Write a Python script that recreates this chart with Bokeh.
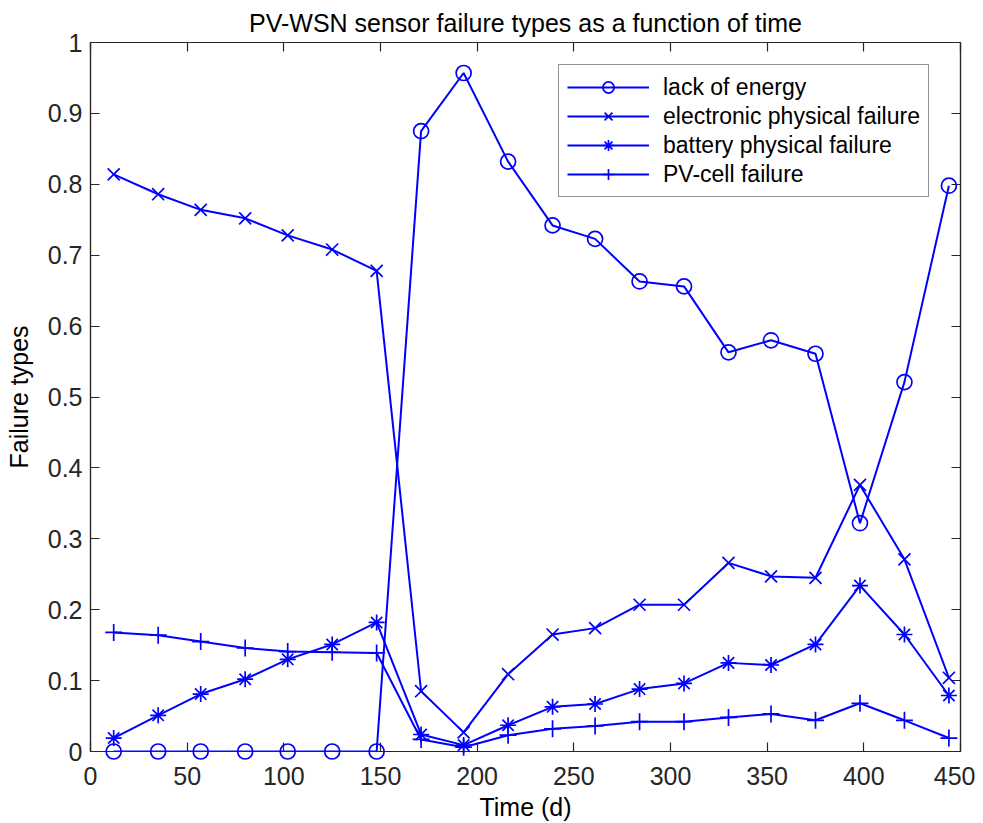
from bokeh.plotting import figure
from bokeh.models import (Range1d, FixedTicker, LinearAxis, CustomJSTickFormatter,
                          Legend, LegendItem)
from bokeh.embed import file_html
from bokeh.resources import INLINE

time = [12, 35, 57, 80, 102, 125, 148, 171, 193, 216, 239, 261, 284, 307, 330, 352, 375, 398, 421, 444]
lack_of_energy = [0, 0, 0, 0, 0, 0, 0, 0.875, 0.957, 0.832, 0.742, 0.723, 0.663, 0.656,
                  0.563, 0.580, 0.561, 0.322, 0.521, 0.798]
electronic_failure = [0.814, 0.786, 0.764, 0.752, 0.728, 0.708, 0.678, 0.085, 0.027, 0.109,
                      0.165, 0.174, 0.207, 0.207, 0.266, 0.247, 0.245, 0.376, 0.271, 0.104]
battery_failure = [0.019, 0.051, 0.081, 0.102, 0.130, 0.151, 0.182, 0.024, 0.009, 0.037,
                   0.063, 0.067, 0.088, 0.096, 0.125, 0.122, 0.151, 0.234, 0.165, 0.079]
pv_cell_failure = [0.168, 0.164, 0.155, 0.146, 0.141, 0.140, 0.139, 0.017, 0.006, 0.023,
                   0.032, 0.036, 0.042, 0.042, 0.048, 0.053, 0.044, 0.068, 0.044, 0.019]
series_names = ["lack of energy", "electronic physical failure",
                "battery physical failure", "PV-cell failure"]
x_ticks = [0, 50, 100, 150, 200, 250, 300, 350, 400, 450]
y_ticks = [0, 0.1, 0.2, 0.3, 0.4, 0.5, 0.6, 0.7, 0.8, 0.9, 1.0]

BLUE = "#0000ff"
AX = "#262626"
FONT = "Liberation Sans"

p = figure(width=975, height=823, output_backend="svg", toolbar_location=None,
           x_range=Range1d(0, 450), y_range=Range1d(0, 1),
           title="PV-WSN sensor failure types as a function of time",
           min_border_left=90, min_border_right=15, min_border_top=42, min_border_bottom=0)
p.background_fill_color = "white"
p.border_fill_color = "white"
p.outline_line_color = AX
p.outline_line_width = 1.2
p.xgrid.visible = False
p.ygrid.visible = False

p.title.align = "center"
p.title.text_font = FONT
p.title.text_font_size = "25px"
p.title.text_font_style = "normal"
p.title.text_color = "#000000"
p.title.standoff = 12

fmt = CustomJSTickFormatter(code="return tick.toFixed(1).replace(/\\.0$/, '');")
blank = CustomJSTickFormatter(code="return '';")

def style_axis(ax, ticks, formatter, label=None):
    ax.ticker = FixedTicker(ticks=ticks)
    ax.formatter = formatter
    ax.major_tick_in = 9
    ax.major_tick_out = 0
    ax.minor_tick_in = 0
    ax.minor_tick_out = 0
    ax.axis_line_color = AX
    ax.axis_line_width = 1.2
    ax.major_tick_line_color = AX
    ax.major_tick_line_width = 1.2
    ax.major_label_text_color = AX
    ax.major_label_text_font = FONT
    ax.major_label_text_font_size = "25px"
    ax.major_label_standoff = 8
    if label:
        ax.axis_label = label
        ax.axis_label_text_font = FONT
        ax.axis_label_text_font_size = "25px"
        ax.axis_label_text_font_style = "normal"
        ax.axis_label_text_color = "#000000"

style_axis(p.xaxis[0], x_ticks, fmt, "Time (d)")
p.xaxis[0].major_label_standoff = 15
p.xaxis[0].axis_label_standoff = 5
style_axis(p.yaxis[0], y_ticks, fmt, "Failure types")
p.yaxis[0].axis_label_standoff = 12

top_ax = LinearAxis()
style_axis(top_ax, x_ticks, blank)
top_ax.major_label_standoff = 0
right_ax = LinearAxis()
style_axis(right_ax, y_ticks, blank)
right_ax.major_label_standoff = 0
p.add_layout(top_ax, "above")
p.add_layout(right_ax, "right")

markers = ["circle", "x", "asterisk", "cross"]
sizes = [15, 17, 16, 17]
data = [lack_of_energy, electronic_failure, battery_failure, pv_cell_failure]
items = []
for name, ys, mk, sz in zip(series_names, data, markers, sizes):
    lr = p.line(time, ys, line_color=BLUE, line_width=2)
    sr = p.scatter(time, ys, marker=mk, size=sz, line_color=BLUE, fill_color=None,
                   line_width=1.7, level="overlay")
    items.append(LegendItem(label=name, renderers=[lr, sr]))

legend = Legend(items=items, location=(468, 554))
legend.label_text_font = FONT
legend.label_text_font_size = "23px"
legend.label_text_color = "#000000"
legend.glyph_width = 82
legend.glyph_height = 28
legend.label_standoff = 14
legend.label_height = 24
legend.spacing = 1
legend.padding = 8
legend.margin = 0
legend.border_line_color = AX
legend.border_line_width = 1.2
legend.background_fill_color = "white"
legend.background_fill_alpha = 1
p.add_layout(legend, "center")

open("out.html", "w").write(file_html(p, INLINE))
